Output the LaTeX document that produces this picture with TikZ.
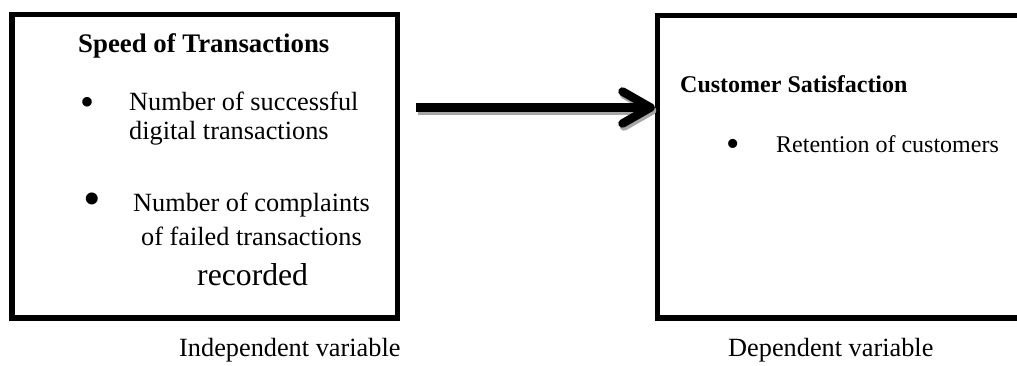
\documentclass[tikz,border=0pt]{standalone}
\usepackage{fontspec}
\setmainfont{Liberation Serif}
\usetikzlibrary{arrows.meta,calc}
\begin{document}
\begin{tikzpicture}[x=1pt,y=-1pt,
  box/.style={draw, line width=5.5pt, rectangle, inner sep=0pt},
  txt/.style={anchor=base west, inner sep=0pt, font=\fontsize{26.3}{30}\selectfont},
  small/.style={anchor=base west, inner sep=0pt, font=\fontsize{24}{28}\selectfont},
  head/.style={anchor=base west, inner sep=0pt, font=\bfseries\fontsize{26.8}{30}\selectfont},
  headsmall/.style={anchor=base west, inner sep=0pt, font=\bfseries\fontsize{24}{28}\selectfont},
  bul/.style={inner sep=0pt, font=\fontsize{40}{44}\selectfont},
  link/.style={line width=8.5pt, -{Straight Barb[length=28pt,width=32pt,round]}}
]
\clip (0,0) rectangle (1017,365);
\fill[white] (0,0) rectangle (1017,365);
% boxes
\node[box, minimum width=385.5pt, minimum height=303.5pt] (a) at (204.75,166.25) {};
\node[box, minimum width=372.5pt, minimum height=302.5pt] (b) at (843.75,166.75) {};
% left texts
\node[head] (h1) at (78,52) {Speed of Transactions};
\node[bul] (b1) at (88,106) {•};
\node[txt] (t1) at (129,110) {Number of successful};
\node[txt] (t2) at (129,139) {digital transactions};
\node[bul, font=\fontsize{50}{54}\selectfont] (b2) at (92,204) {•};
\node[txt] (t3) at (133,211) {Number of complaints};
\node[txt] (t4) at (141,245) {of failed transactions};
\node[txt, font=\fontsize{31.7}{34}\selectfont] (t5) at (197,285) {recorded};
% right texts
\node[headsmall] (h2) at (680,92) {Customer Satisfaction};
\node[bul, font=\fontsize{38}{42}\selectfont] (b3) at (733,148) {•};
\node[small] (t6) at (776,152) {Retention of customers};
% captions
\node[txt] (c1) at (179,356) {Independent variable};
\node[txt] (c2) at (728,356) {Dependent variable};
% arrow
\coordinate (s) at (416,107.5);
\coordinate (e) at (b.west |- s);
\draw[link, draw=black!35, transform canvas={shift={(1.5pt,-3pt)}}] (s) -- (e);
\draw[link] (s) -- (e);
\end{tikzpicture}
\end{document}
